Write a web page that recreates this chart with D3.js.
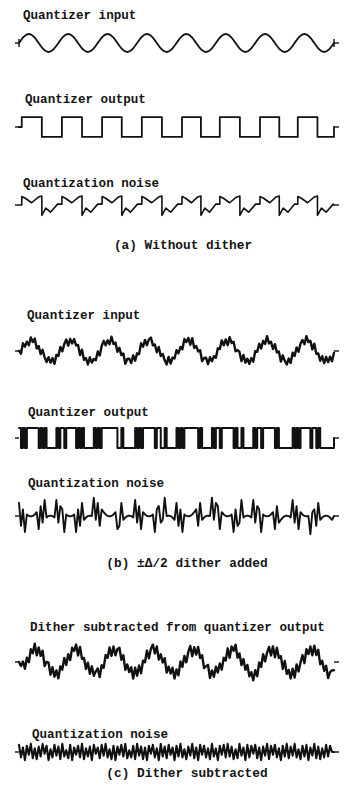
<!DOCTYPE html>
<html>
<head>
<meta charset="utf-8">
<script src="https://cdn.jsdelivr.net/npm/d3@7"></script>
<style>
body { margin: 0; background: #fff; }
svg { display: block; }
.label { font-family: "Liberation Mono", "DejaVu Sans Mono", monospace; font-weight: bold; font-size: 12.6px; fill: #141414; }
.caption { font-family: "Liberation Mono", "DejaVu Sans Mono", monospace; font-weight: bold; font-size: 12.8px; fill: #141414; }
.trace { fill: none; stroke: #111; stroke-linejoin: round; stroke-linecap: round; }
.stub { stroke: #111; stroke-width: 1.4; }
</style>
</head>
<body>
<svg width="346" height="796"></svg>
<script>
// time is measured in cycles of the input sine (0..8), amplitude in units of the clean input

var titles = ["Quantizer input", "Quantizer output", "Quantization noise",
              "Quantizer input", "Quantizer output", "Quantization noise",
              "Dither subtracted from quantizer output", "Quantization noise"];

var captions = ["(a) Without dither", "(b) \u00b1\u0394/2 dither added", "(c) Dither subtracted"];

// (a) clean input, sampled 8 times per cycle
var cleanIn = [0, .71, 1, .71, 0, -.71, -1, -.71,
               0, .71, 1, .71, 0, -.71, -1, -.71,
               0, .71, 1, .71, 0, -.71, -1, -.71,
               0, .71, 1, .71, 0, -.71, -1, -.71,
               0, .71, 1, .71, 0, -.71, -1, -.71,
               0, .71, 1, .71, 0, -.71, -1, -.71,
               0, .71, 1, .71, 0, -.71, -1, -.71,
               0, .71, 1, .71, 0, -.71, -1, -.71, 0];

// (a) quantizer output: switching times and the level held after each
var cleanOutT = [0, 0.07, 0.58, 1.09, 1.60, 2.11, 2.61, 3.12, 3.63, 4.14, 4.62, 5.10, 5.61, 6.12, 6.61, 7.08, 7.58, 8.0];
var cleanOutV = [0, 1.1, -1.1, 1.1, -1.1, 1.1, -1.1, 1.1, -1.1, 1.1, -1.1, 1.1, -1.1, 1.1, -1.1, 1.1, -1.1, 0];

// (a) quantization noise, [time, value]
var cleanNoise = [[0,0],[0.07,0],[0.07,0.95],[0.16,0.75],[0.32,0.25],[0.5,0.9],[0.58,1.0],[0.58,-1.15],[0.68,-0.35],[0.8,-0.8],[0.98,0.1],
  [1.09,0.1],[1.09,0.95],[1.18,0.75],[1.34,0.25],[1.52,0.9],[1.6,1.0],[1.6,-1.15],[1.7,-0.35],[1.82,-0.8],[2.0,0.1],
  [2.11,0.1],[2.11,0.95],[2.2,0.75],[2.36,0.25],[2.53,0.9],[2.61,1.0],[2.61,-1.15],[2.71,-0.35],[2.83,-0.8],[3.01,0.1],
  [3.12,0.1],[3.12,0.95],[3.21,0.75],[3.37,0.25],[3.55,0.9],[3.63,1.0],[3.63,-1.15],[3.73,-0.35],[3.85,-0.8],[4.03,0.1],
  [4.14,0.1],[4.14,0.95],[4.23,0.75],[4.38,0.25],[4.54,0.9],[4.62,1.0],[4.62,-1.15],[4.72,-0.35],[4.84,-0.8],[5.0,0.1],
  [5.1,0.1],[5.1,0.95],[5.19,0.75],[5.35,0.25],[5.53,0.9],[5.61,1.0],[5.61,-1.15],[5.71,-0.35],[5.83,-0.8],[6.01,0.1],
  [6.12,0.1],[6.12,0.95],[6.21,0.75],[6.37,0.25],[6.53,0.9],[6.61,1.0],[6.61,-1.15],[6.71,-0.35],[6.83,-0.8],[7.0,0.1],
  [7.08,0.1],[7.08,0.95],[7.17,0.75],[7.33,0.25],[7.5,0.9],[7.58,1.0],[7.58,-1.15],[7.68,-0.35],[7.8,-0.8],[7.98,0.1],[8.0,0]];

// (b) and (c) traces, sampled 20 times per cycle
var ditherIn = [
  0.04,-0.3,0.86,0.48,1.03,0.64,1.5,0.99,1.38,0.28,0.56,-0.35,0.14,-0.68,-1.23,-0.69,-1.3,-0.79,-1.43,-0.43,
  -0.56,0.45,-0.04,0.78,1.28,0.59,1.35,0.84,1.33,0.63,0.66,-0.45,0.14,-0.98,-0.78,-1.49,-0.7,-1.29,-0.88,-1.03,
  -0.06,-0.5,0.56,1.13,0.63,1.19,0.75,1.59,0.78,0.93,-0.09,0.35,-0.46,-0.28,-1.43,-0.89,-0.85,-1.34,-0.48,-1.08,
  -0.26,-0.35,0.86,0.48,1.23,0.64,1.3,1.49,0.63,0.73,-0.14,0.45,-0.56,-0.33,-1.03,-1.49,-0.65,-1.39,-0.73,-0.83,
  0.09,-0.25,0.46,0.18,1.33,0.99,1.45,0.69,1.43,0.33,0.56,-0.05,0.09,-1.13,-0.78,-0.74,-1.45,-0.69,-1.13,-0.58,
  -0.76,0.3,0.21,1.18,0.63,1.29,0.65,1.54,0.88,1.03,-0.04,0.1,-0.11,-1.13,-0.43,-1.29,-0.85,-1.44,-0.78,-1.18,
  -0.01,-0.1,0.81,0.28,1.13,0.79,1.65,0.84,1.03,0.23,0.76,-0.15,-0.06,-1.18,-0.48,-1.09,-1.5,-0.84,-1.33,-0.18,
  -0.56,0.4,-0.09,0.83,1.23,0.74,1.65,0.99,1.13,0.18,0.81,-0.3,-0.26,-1.08,-0.58,-1.34,-0.65,-1.24,-0.63,-1.13,
  -0.2];

var ditherOut = [
  1,-1,1,-1,1,1,1,1,1,1,-1,1,-1,1,-1,-1,-1,-1,-1,1,
  -1,1,1,-1,1,1,1,1,1,-1,1,-1,1,-1,-1,-1,-1,-1,1,-1,
  1,-1,1,1,1,1,1,1,1,1,-1,-1,1,-1,-1,-1,-1,-1,-1,1,
  -1,1,-1,1,1,1,1,1,1,-1,1,1,-1,-1,1,-1,-1,-1,-1,-1,
  1,-1,1,-1,1,1,1,1,1,1,1,-1,1,-1,-1,-1,-1,-1,1,-1,
  1,1,-1,1,1,1,1,1,1,-1,1,-1,-1,1,-1,-1,-1,-1,-1,1,
  -1,1,1,-1,1,1,1,1,1,1,-1,1,-1,-1,-1,-1,-1,-1,-1,1,
  -1,1,-1,1,1,1,1,1,-1,1,1,-1,1,-1,-1,-1,-1,-1,-1,-1,
  0];

var ditherNoise = [
  1.46,-1.1,0.74,-1.78,0.17,0.01,-0.05,0.01,0.17,0.42,-1.46,1.1,-0.74,1.78,-0.17,-0.01,0.05,-0.01,-0.17,1.78,
  -0.74,1.1,0.74,-1.78,0.17,0.01,-0.05,0.01,0.17,-1.78,0.74,-1.1,1.46,-0.42,-0.17,-0.01,0.05,-0.01,2.03,-0.42,
  1.46,-1.1,0.74,0.42,0.17,0.01,-0.05,0.01,0.17,0.42,-1.46,-1.1,1.46,-0.42,-0.17,-0.01,0.05,-0.01,-0.17,1.78,
  -0.74,1.1,-1.46,0.42,0.17,0.01,-0.05,0.01,0.17,-1.78,0.74,1.1,-0.74,-0.42,2.03,-0.01,0.05,-0.01,-0.17,-0.42,
  1.46,-1.1,0.74,-1.78,0.17,0.01,-0.05,0.01,0.17,0.42,0.74,-1.1,1.46,-0.42,-0.17,-0.01,0.05,-0.01,2.03,-0.42,
  1.46,1.1,-1.46,0.42,0.17,0.01,-0.05,0.01,0.17,-1.78,0.74,-1.1,-0.74,1.78,-0.17,-0.01,0.05,-0.01,-0.17,1.78,
  -0.74,1.1,0.74,-1.78,0.17,0.01,-0.05,0.01,0.17,0.42,-1.46,1.1,-0.74,-0.42,-0.17,-0.01,0.05,-0.01,-0.17,1.78,
  -0.74,1.1,-1.46,0.42,0.17,0.01,-0.05,0.01,-2.03,0.42,0.74,-1.1,1.46,-0.42,-0.17,-0.01,0.05,-0.01,-0.17,-0.42,
  0];

var subtracted = [
  0,-0.45,0.05,-0.75,0.47,-0.03,1.42,0.98,2.03,0.74,1.62,0.68,1.25,-0.45,0.03,-0.07,-1.42,-0.58,-1.63,-0.94,
  -1.82,-0.48,-0.85,0.45,-0.33,0.87,0.22,1.58,1.23,1.94,0.72,1.68,0.35,0.45,-0.77,-0.07,-1.32,-0.48,-1.53,-1.04,
  -0.72,-1.68,-0.35,-0.65,0.77,0.47,1.62,0.68,1.73,0.74,1.42,1.58,0.25,0.75,-0.87,-0.27,-1.12,-0.58,-1.83,-0.64,
  -1.52,-0.38,-1.25,0.15,-0.03,1.27,0.42,1.48,1.93,0.94,1.72,0.28,0.85,-0.05,0.43,-1.17,-0.52,-1.28,-0.63,-1.84,
  -0.82,-1.48,0.05,-0.55,0.67,-0.03,1.12,1.78,0.63,1.64,0.82,1.68,0.45,0.75,-0.67,-0.47,-0.32,-1.78,-0.93,-1.64,
  -0.52,-1.18,-0.15,-0.85,0.47,0.17,1.52,0.48,1.73,1.24,1.92,0.48,0.95,-0.35,0.33,-0.87,-0.32,-1.58,-1.13,-2.04,
  -0.92,-1.58,-0.05,-0.55,0.87,0.07,1.02,1.68,0.73,1.74,0.52,1.58,0.45,0.65,-0.77,0.13,-1.32,-0.88,-1.83,-0.74,
  -1.72,-0.28,-1.05,-0.05,0.77,-0.13,1.42,0.88,1.73,0.74,1.82,0.78,1.35,-0.25,0.13,-0.97,-0.42,-1.78,-1.13,-0.94,
  -0.9];

var residual = [
  .8,-.6,.5,-.9,.7,-.3,.9,-.7,.4,-.8,.6,-.5,.9,-.2,.7,-.9,.3,-.6,.8,-.4,
  .6,-.8,.9,-.5,.2,-.7,.8,-.9,.5,-.3,.7,-.6,.9,-.8,.4,-.5,.6,-.9,.8,-.2,
  .5,-.7,.8,-.4,.9,-.6,.3,-.8,.7,-.9,.6,-.3,.8,-.5,.9,-.7,.2,-.6,.7,-.8,
  .9,-.4,.6,-.8,.5,-.9,.7,-.2,.8,-.6,.4,-.9,.9,-.5,.6,-.7,.8,-.3,.5,-.9,
  .7,-.5,.9,-.6,.3,-.8,.6,-.4,.9,-.7,.5,-.9,.8,-.3,.7,-.6,.4,-.8,.9,-.5,
  .4,-.9,.7,-.3,.8,-.6,.9,-.5,.6,-.8,.3,-.7,.9,-.4,.5,-.9,.8,-.6,.7,-.2,
  .8,-.7,.5,-.9,.6,-.4,.9,-.8,.7,-.3,.8,-.6,.4,-.9,.7,-.5,.9,-.7,.6,-.4,
  .9,-.6,.3,-.8,.7,-.5,.8,-.9,.5,-.4,.9,-.7,.6,-.8,.4,-.6,.8,-.5,.7,0,
  0];

function sampled(values, perCycle) {
  return values.map(function(v, i) { return [i / perCycle, v]; });
}

function paired(ts, vs) {
  return ts.map(function(t, i) { return [t, vs[i]]; });
}

var svg = d3.select("svg");

var x = d3.scaleLinear().domain([0, 8]).range([19, 334]);

var rows = [
  {title: 0, tx: 23, ty: 19,  cy: 43,  pts: sampled(cleanIn, 8),        curve: d3.curveNatural,   sw: 1.8, tick: true},
  {title: 1, tx: 25, ty: 103, cy: 127, pts: paired(cleanOutT, cleanOutV), curve: d3.curveStepAfter, sw: 1.8},
  {title: 2, tx: 23, ty: 187, cy: 205, pts: cleanNoise,                 curve: d3.curveLinear,    sw: 1.6},
  {title: 3, tx: 27, ty: 319, cy: 351, pts: sampled(ditherIn, 20),      curve: d3.curveLinear,    sw: 2.4},
  {title: 4, tx: 28, ty: 416, cy: 438, pts: sampled(ditherOut.map(function(v) { return v * 1.1; }), 20), curve: d3.curveStepAfter, sw: 2.0},
  {title: 5, tx: 28, ty: 487, cy: 516, pts: sampled(ditherNoise, 20),   curve: d3.curveLinear,    sw: 1.9},
  {title: 6, tx: 30, ty: 631, cy: 662, pts: sampled(subtracted, 20),    curve: d3.curveLinear,    sw: 2.4},
  {title: 7, tx: 32, ty: 738, cy: 752, pts: sampled(residual, 20),      curve: d3.curveLinear,    sw: 2.1}
];

rows.forEach(function(r) {
  var y = d3.scaleLinear().domain([-1, 1]).range([r.cy + 9, r.cy - 9]);

  svg.append("text")
      .attr("class", "label")
      .attr("x", r.tx)
      .attr("y", r.ty)
      .text(titles[r.title]);

  var line = d3.line()
      .curve(r.curve)
      .x(function(d) { return x(d[0]); })
      .y(function(d) { return y(d[1]); });

  svg.append("path")
      .datum(r.pts)
      .attr("class", "trace")
      .attr("stroke-width", r.sw)
      .attr("d", line);

  // little lead-in / lead-out marks at both ends
  var g = svg.append("g");
  g.append("line").attr("class", "stub")
      .attr("x1", x(0) - 4).attr("x2", x(0)).attr("y1", y(0)).attr("y2", y(0));
  g.append("line").attr("class", "stub")
      .attr("x1", x(8)).attr("x2", x(8) + 5).attr("y1", y(0)).attr("y2", y(0));
  if (r.tick) {
    [0, 8].forEach(function(t) {
      g.append("line").attr("class", "stub")
          .attr("x1", x(t)).attr("x2", x(t))
          .attr("y1", y(-0.45)).attr("y2", y(0.45));
    });
  }
});

var capPos = [[183, 249], [187, 567], [187, 777]];

svg.selectAll(".caption")
    .data(captions)
    .enter()
    .append("text")
    .attr("class", "caption")
    .attr("text-anchor", "middle")
    .attr("x", function(d, i) { return capPos[i][0]; })
    .attr("y", function(d, i) { return capPos[i][1]; })
    .text(function(d) { return d; });
</script>
</body>
</html>
